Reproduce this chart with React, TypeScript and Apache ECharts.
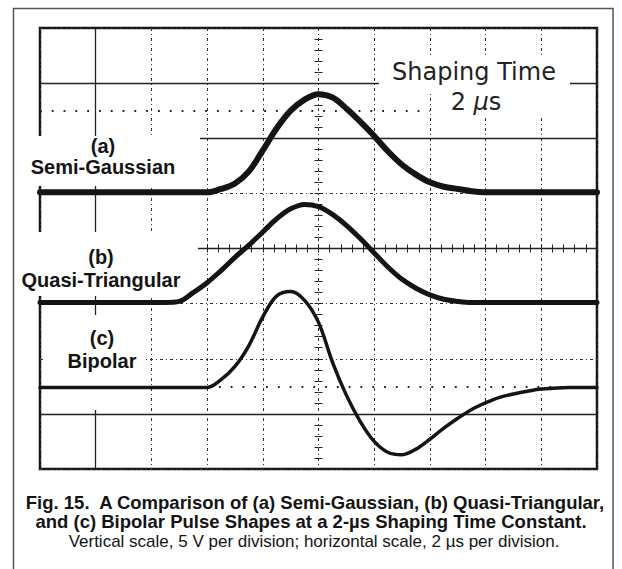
import React, { useEffect, useRef } from "react";
import * as echarts from "echarts";

// time in microseconds (2 µs per division), amplitude in volts (5 V per division)
const timeUs = [0, 4.0, 4.5, 5.0, 5.5, 6.0, 6.5, 7.0, 7.5, 8.0, 8.5, 9.0, 9.5, 10.0, 10.5, 11.0, 11.5, 12.0, 12.5, 13.0, 13.5, 14.0, 14.5, 15.0, 15.5, 16.0, 16.5, 17.0, 17.5, 18.0, 19.0, 20.0];
const semiGaussian = [25.1, 25.1, 25.1, 25.1, 25.1, 25.1, 25.4, 25.9, 27.0, 28.9, 30.9, 32.5, 33.5, 34.0, 33.7, 32.7, 31.5, 30.2, 28.8, 27.6, 26.7, 26.0, 25.6, 25.4, 25.2, 25.1, 25.1, 25.1, 25.1, 25.1, 25.1, 25.1];
const quasiTriangular = [15.1, 15.1, 15.1, 15.2, 16.0, 16.9, 18.0, 19.2, 20.3, 21.5, 22.7, 23.6, 24.0, 23.8, 23.1, 22.1, 20.9, 19.6, 18.3, 17.2, 16.4, 15.8, 15.4, 15.2, 15.1, 15.1, 15.1, 15.1, 15.1, 15.1, 15.1, 15.1];
const bipolar = [7.4, 7.4, 7.4, 7.4, 7.4, 7.4, 8.1, 9.3, 11.2, 13.8, 15.7, 16.1, 15.3, 13.3, 9.7, 6.7, 4.3, 2.5, 1.5, 1.3, 1.8, 2.7, 3.7, 4.6, 5.4, 6.0, 6.5, 6.8, 7.05, 7.25, 7.4, 7.4];

// graticule
const xMin = 0, xMax = 20, xStep = 2;
const yMin = 0, yMax = 40, yStep = 5;
const solidRulesV = [35, 30, 5];
const solidRulesUs = [2];
const dottedRules = [
  [32.5, 0, 14],
  [7.5, 6, 20],
];

const labelA = ["(a)", "Semi-Gaussian"];
const labelB = ["(b)", "Quasi-Triangular"];
const labelC = ["(c)", "Bipolar"];
const shapingLine1 = "Shaping Time";
const captionLines = [
  "Fig. 15.  A Comparison of (a) Semi-Gaussian, (b) Quasi-Triangular,",
  "and (c) Bipolar Pulse Shapes at a 2-\u00b5s Shaping Time Constant.",
  "Vertical scale, 5 V per division; horizontal scale, 2 \u00b5s per division.",
];

const INK = "#141414";
const GRID = "#333";
const SANS = '"Liberation Sans", Arial, Helvetica, sans-serif';

function txt(text: string, x: number, y: number, font: string, z = 9, extra: any = {}) {
  return {
    type: "text",
    x,
    y,
    z,
    silent: true,
    style: {
      text,
      font,
      fill: INK,
      align: "center",
      verticalAlign: "middle",
      textAlign: "center",
      textVerticalAlign: "middle",
      ...extra,
    },
  };
}

function whiteBox(x: number, y: number, w: number, h: number) {
  return { type: "rect", z: 8, silent: true, shape: { x, y, width: w, height: h }, style: { fill: "#fff" } };
}

export default function App() {
  const ref = useRef<HTMLDivElement>(null);

  useEffect(() => {
    if (!ref.current) return;
    const chart = echarts.init(ref.current, null, { renderer: "svg" });

    const pairs = (ys: number[]) => timeUs.map((t, i) => [t, ys[i]]);
    const tickAxisX = (inside: boolean) => ({
      type: "value",
      min: xMin,
      max: xMax,
      interval: xStep,
      axisLine: { show: inside, onZero: true, onZeroAxisIndex: 1, lineStyle: { color: "#222", width: 1.3 } },
      axisTick: { show: true, inside, length: 4, lineStyle: { color: "#222", width: 1 } },
      minorTick: { show: true, splitNumber: 5, length: 4, lineStyle: { color: "#222", width: 1 } },
      axisLabel: { show: false },
      splitLine: { show: false },
      minorSplitLine: { show: false },
      z: 1,
    });
    const tickAxisY = (inside: boolean) => ({
      type: "value",
      min: yMin,
      max: yMax,
      interval: yStep,
      axisLine: { show: false, onZero: true, onZeroAxisIndex: 3 },
      axisTick: { show: true, inside, length: 4, lineStyle: { color: "#222", width: 1 } },
      minorTick: { show: true, splitNumber: 5, length: 4, lineStyle: { color: "#222", width: 1 } },
      axisLabel: { show: false },
      splitLine: { show: false },
      z: 1,
    });

    const curve = (name: string, ys: number[], width: number, extra: any = {}) => ({
      name,
      type: "line",
      data: pairs(ys),
      smooth: 0.35,
      showSymbol: false,
      symbol: "none",
      silent: true,
      z: 10,
      lineStyle: { color: INK, width, cap: "round", join: "round" },
      ...extra,
    });

    const option: any = {
      animation: false,
      grid: {
        left: 40,
        top: 28,
        right: 25,
        bottom: 100,
        show: true,
        borderColor: INK,
        borderWidth: 2.5,
        backgroundColor: "transparent",
      },
      xAxis: [
        {
          type: "value",
          min: xMin,
          max: xMax,
          interval: xStep,
          axisLine: { show: false, onZero: false },
          axisTick: { show: false },
          axisLabel: { show: false },
          splitLine: { show: true, lineStyle: { color: GRID, width: 1, type: [3, 3, 1, 3] } },
        },
        tickAxisX(true),
        tickAxisX(false),
        { type: "value", min: -10, max: 10, show: false },
      ],
      yAxis: [
        {
          type: "value",
          min: yMin,
          max: yMax,
          interval: yStep,
          axisLine: { show: false, onZero: false },
          axisTick: { show: false },
          axisLabel: { show: false },
          splitLine: { show: true, lineStyle: { color: GRID, width: 1, type: [3, 3, 1, 3] } },
        },
        { type: "value", min: -20, max: 20, show: false },
        tickAxisY(true),
        tickAxisY(false),
      ],
      series: [
        curve("Semi-Gaussian", semiGaussian, 6),
        curve("Quasi-Triangular", quasiTriangular, 5, {
          markLine: {
            z: 5,
            silent: true,
            symbol: ["none", "none"],
            label: { show: false },
            emphasis: { disabled: true },
            lineStyle: { color: "#222", width: 1.3, type: "solid" },
            data: [
              ...solidRulesV.map((v) => ({ yAxis: v })),
              ...solidRulesUs.map((u) => ({ xAxis: u })),
            ],
          },
        }),
        curve("Bipolar", bipolar, 3.5, {
          markLine: {
            z: 5,
            silent: true,
            symbol: ["none", "none"],
            label: { show: false },
            emphasis: { disabled: true },
            lineStyle: { color: "#222", width: 1.8, type: [1.8, 10] },
            data: dottedRules.map(([v, a, b]) => [{ coord: [a, v] }, { coord: [b, v] }]),
          },
        }),
      ],
      graphic: {
        elements: [
          {
            type: "rect",
            z: 0,
            silent: true,
            shape: { x: 13.5, y: 8.5, width: 599.5, height: 580 },
            style: { fill: "none", stroke: "#555", lineWidth: 1.5 },
          },
          whiteBox(28, 136, 172, 50),
          whiteBox(15, 232, 183, 64),
          whiteBox(45, 315, 100, 95),
          whiteBox(379, 57, 191, 35),
          whiteBox(436, 92, 134, 23),
          txt(labelA[0], 103, 146, `bold 20px ${SANS}`),
          txt(labelA[1], 103, 167, `bold 20px ${SANS}`),
          txt(labelB[0], 101, 257, `bold 20px ${SANS}`),
          txt(labelB[1], 101, 280, `bold 20px ${SANS}`),
          txt(labelC[0], 102, 338, `bold 20px ${SANS}`),
          txt(labelC[1], 102, 361, `bold 20px ${SANS}`),
          txt(shapingLine1, 474, 72, '24px "DejaVu Sans", sans-serif', 9, { fill: "#222" }),
          txt("2 {i|\u00b5}s", 476, 102, '24px "DejaVu Sans", sans-serif', 9, {
            fill: "#222",
            rich: { i: { font: 'italic 24px "DejaVu Sans", sans-serif', fill: "#222" } },
          }),
          txt(captionLines[0], 315, 502.5, `bold 18.5px ${SANS}`),
          txt(captionLines[1], 311, 521.5, `bold 18.5px ${SANS}`),
          txt(captionLines[2], 314, 541, `17px ${SANS}`),
        ],
      },
    };

    chart.setOption(option);
    return () => chart.dispose();
  }, []);

  return (
    <div
      ref={ref}
      style={{ position: "absolute", left: 0, top: 0, width: 622, height: 569, background: "#fff" }}
    />
  );
}
